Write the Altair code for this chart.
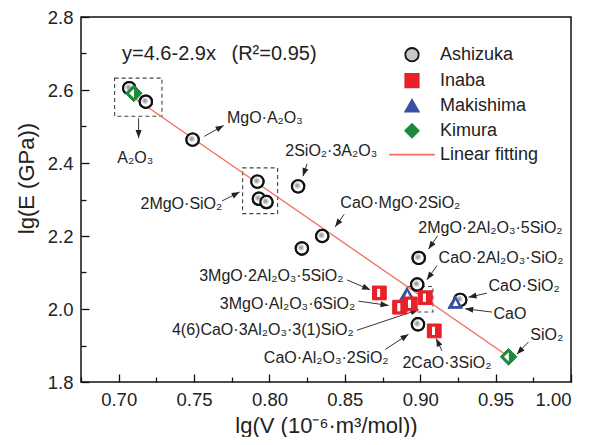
import math
import altair as alt
import pandas as pd

FONT = "Liberation Sans"
X_DOMAIN = [0.675, 1.0]
Y_DOMAIN = [1.8, 2.8]
W, H = 490, 365

# ---------------- data ----------------
ash_x = [0.707, 0.718, 0.749, 0.792, 0.793, 0.798, 0.819, 0.835, 0.8215, 0.899, 0.898, 0.9265, 0.8985]
ash_y = [2.605, 2.568, 2.464, 2.349, 2.302, 2.293, 2.336, 2.200, 2.166, 2.140, 2.067, 2.025, 1.958]
ina_x = [0.8729, 0.8863, 0.8934, 0.9033, 0.9093]
ina_y = [2.044, 2.005, 2.014, 2.031, 1.940]
mak_x = [0.8912, 0.9232]
mak_y = [2.042, 2.019]
kim_x = [0.710, 0.9586]
kim_y = [2.591, 1.869]
fit_x = [0.708, 0.958]
fit_y = [2.585, 1.871]

box_x1 = [0.6973, 0.7822, 0.8912]
box_x2 = [0.7287, 0.8054, 0.9084]
box_y1 = [2.6324, 2.3867, 2.0616]
box_y2 = [2.5281, 2.2613, 1.9916]

arr_x1 = [0.7132, 0.7568, 0.8249, 0.7685, 0.8496, 0.9115, 0.9111, 0.9442, 0.9476, 0.9718, 0.8514, 0.8591, 0.8580, 0.8768, 0.9144]
arr_y1 = [2.5229, 2.4730, 2.3975, 2.2959, 2.2597, 2.2005, 2.1188, 2.0433, 1.9916, 1.9098, 2.0798, 2.0215, 1.9417, 1.8891, 1.8853]
arr_x2 = [0.7132, 0.7696, 0.8222, 0.7802, 0.8436, 0.9055, 0.9044, 0.9320, 0.9298, 0.9641, 0.8668, 0.8790, 0.8989, 0.8922, 0.9106]
arr_y2 = [2.4684, 2.5030, 2.3640, 2.3204, 2.2251, 2.1643, 2.0798, 2.0324, 2.0008, 1.8763, 2.0526, 2.0098, 1.9981, 1.9308, 1.9191]

lab_text = ["A₂O₃", "MgO·A₂O₃", "2SiO₂·3A₂O₃", "2MgO·SiO₂", "CaO·MgO·2SiO₂",
            "2MgO·2Al₂O₃·5SiO₂", "CaO·2Al₂O₃·SiO₂", "CaO·SiO₂", "CaO", "SiO₂",
            "3MgO·2Al₂O₃·5SiO₂", "3MgO·Al₂O₃·6SiO₂", "4(6)CaO·3Al₂O₃·3(1)SiO₂",
            "CaO·Al₂O₃·2SiO₂", "2CaO·3SiO₂"]
lab_x = [0.711, 0.7718, 0.8105, 0.7687, 0.847, 0.8987, 0.9122, 0.9453, 0.9486, 0.973,
         0.8491, 0.8569, 0.8558, 0.879, 0.9177]
lab_y = [2.4139, 2.5229, 2.4322, 2.2877, 2.2913, 2.2223, 2.1398, 2.0643, 1.9872, 1.928,
         2.0916, 2.0144, 1.9417, 1.8646, 1.8526]
lab_align = ["center", "left", "left", "right", "left", "left", "left", "left", "left", "left",
             "right", "right", "right", "right", "center"]

eq_text = ["y=4.6-2.9x\u2002\u00a0(R²=0.95)"]
eq_x = [0.7022]
eq_y = [2.70]

series_names = ["Ashizuka", "Inaba", "Makishima", "Kimura", "Linear fitting"]
shape_range = ["circle", "square", "triangle-up", "diamond", "M-3.4,0H3.4"]
fill_range = ["#c8c8c8", "#e62129", "#3b4ea0", "#1e8a3c", "transparent"]
stroke_range = ["#111111", "#e62129", "#3b4ea0", "#1e8a3c", "#f26b5b"]

x_major = [0.70, 0.75, 0.80, 0.85, 0.90, 0.95, 1.00]
x_all = [round(0.675 + 0.025 * i, 3) for i in range(14)]
y_major = [1.8, 2.0, 2.2, 2.4, 2.6, 2.8]
y_all = [round(1.8 + 0.1 * i, 2) for i in range(11)]

# ---------------- helpers ----------------
xs = alt.Scale(domain=X_DOMAIN, nice=False, zero=False)
ys = alt.Scale(domain=Y_DOMAIN, nice=False, zero=False)

axis_x_labels = alt.Axis(values=x_major, format=".2f", tickSize=0, labelPadding=8,
                         labelFontSize=18.5, title="lg(V (10⁻⁶·m³/mol))",
                         titleFontSize=22, titleFontWeight="normal", titlePadding=7)
axis_y_labels = alt.Axis(values=y_major, format=".1f", tickSize=0, labelPadding=8,
                         labelFontSize=18.5, title="lg(E (GPa))", titleY=161,
                         titleFontSize=22, titleFontWeight="normal", titlePadding=9)
axis_x_ticks = alt.Axis(orient="top", offset=-H, values=x_all, labels=False, title=None,
                        tickWidth=1.3, tickColor="#111",
                        tickSize={"condition": {"test": "abs(datum.value*20 - round(datum.value*20)) < 0.001", "value": 8}, "value": 5})
axis_y_ticks = alt.Axis(orient="right", offset=-W, values=y_all, labels=False, title=None,
                        tickWidth=1.3, tickColor="#111",
                        tickSize={"condition": {"test": "abs(datum.value*5 - round(datum.value*5)) < 0.001", "value": 8}, "value": 5})

legend = alt.Legend(title=None, orient="none", legendX=322, legendY=28.7, padding=0,
                    labelFont=FONT, labelFontSize=18, labelColor="#222",
                    symbolSize=180, symbolStrokeWidth=1.8, symbolOpacity=1,
                    rowPadding=4, labelOffset=19)


def series_enc():
    return dict(
        shape=alt.Shape("series:N", scale=alt.Scale(domain=series_names, range=shape_range), legend=legend),
        fill=alt.Fill("series:N", scale=alt.Scale(domain=series_names, range=fill_range), legend=legend),
        stroke=alt.Stroke("series:N", scale=alt.Scale(domain=series_names, range=stroke_range), legend=legend),
    )


def pts(xv, yv, name):
    return pd.DataFrame({"x": xv, "y": yv, "series": name})


ash = pts(ash_x, ash_y, "Ashizuka")
ina = pts(ina_x, ina_y, "Inaba")
mak = pts(mak_x, mak_y, "Makishima")
kim = pts(kim_x, kim_y, "Kimura")
fit = pd.DataFrame({"x": fit_x, "y": fit_y})
boxes = pd.DataFrame({"x": box_x1, "x2": box_x2, "y": box_y1, "y2": box_y2})


def head_angle(x1, y1, x2, y2):
    dx = (x2 - x1) * W / (X_DOMAIN[1] - X_DOMAIN[0])
    dy = -(y2 - y1) * H / (Y_DOMAIN[1] - Y_DOMAIN[0])
    return math.degrees(math.atan2(dx, -dy)) % 360


arrows = pd.DataFrame({"x": arr_x1, "y": arr_y1, "x2": arr_x2, "y2": arr_y2})
arrows["angle"] = [head_angle(a, b, c, d) for a, b, c, d in zip(arr_x1, arr_y1, arr_x2, arr_y2)]

labels = pd.DataFrame({"x": lab_x, "y": lab_y, "text": lab_text, "align": lab_align})
eq = pd.DataFrame({"x": eq_x, "y": eq_y, "text": eq_text})

X = lambda ax=None: alt.X("x:Q", scale=xs, axis=ax)
Y = lambda ax=None: alt.Y("y:Q", scale=ys, axis=ax)

# ---------------- layers ----------------
box_layer = alt.Chart(boxes).mark_rect(fill=None, stroke="#444", strokeWidth=1.1, strokeDash=[4, 3]).encode(
    x=X(axis_x_ticks), x2="x2:Q", y=Y(axis_y_ticks), y2="y2:Q")

fit_layer = alt.Chart(fit).mark_line(color="#f26b5b", strokeWidth=1.3).encode(
    x=X(axis_x_labels), y=Y(axis_y_labels))

arrow_lines = alt.Chart(arrows).mark_rule(color="#333", strokeWidth=1).encode(
    x=X(), y=Y(), x2="x2:Q", y2="y2:Q")
arrow_heads = alt.Chart(arrows).mark_point(shape="M0,0L-0.38,1L0.38,1Z", size=256, filled=True,
                                           fill="#222", stroke=None, opacity=1).encode(
    x=alt.X("x2:Q", scale=xs, axis=None), y=alt.Y("y2:Q", scale=ys, axis=None),
    angle=alt.Angle("angle:Q", scale=None))

grad = {"gradient": "radial", "x1": 0.42, "y1": 0.42, "r1": 0, "x2": 0.45, "y2": 0.45, "r2": 0.55,
        "stops": [{"offset": 0, "color": "#8c8c8c"}, {"offset": 0.3, "color": "#bdbdbd"},
                  {"offset": 0.55, "color": "#ffffff"}, {"offset": 1, "color": "#ffffff"}]}

ash_base = alt.Chart(ash).mark_point(filled=True, size=150, opacity=1, strokeWidth=2.2).encode(
    x=X(), y=Y(), **series_enc())
ash_top = alt.Chart(ash).mark_point(shape="circle", size=150, fill=grad, stroke="#111",
                                    strokeWidth=2.2, opacity=1).encode(x=X(), y=Y())

mak_base = alt.Chart(mak).mark_point(filled=True, size=210, opacity=1, strokeWidth=1).encode(
    x=X(), y=Y(), **series_enc())
mak_top = alt.Chart(mak).mark_point(shape="M0.05,-0.3L0.45,0.55L-0.35,0.55Z", size=210, filled=True,
                                    fill="white", strokeWidth=0, opacity=1).encode(x=X(), y=Y())

ina_base = alt.Chart(ina).mark_point(filled=True, size=190, opacity=1, strokeWidth=1).encode(
    x=X(), y=Y(), **series_enc())
ina_top = alt.Chart(ina).mark_point(shape="M-0.33,-0.6H0.11V0.6H-0.33Z", size=190, filled=True,
                                    fill="white", strokeWidth=0, opacity=1).encode(x=X(), y=Y())

kim_base = alt.Chart(kim).mark_point(filled=True, size=280, opacity=1, strokeWidth=1).encode(
    x=X(), y=Y(), **series_enc())
kim_top = alt.Chart(kim).mark_point(shape="M-0.55,0L0.03,-0.55L0.03,0.55Z", size=280, filled=True,
                                    fill="white", strokeWidth=0, opacity=1).encode(x=X(), y=Y())

text_layers = []
for al in ["left", "center", "right"]:
    sub = labels[labels["align"] == al]
    text_layers.append(alt.Chart(sub).mark_text(align=al, baseline="middle", font=FONT,
                                                fontSize=16, color="#222").encode(
        x=X(), y=Y(), text="text:N"))

eq_layer = alt.Chart(eq).mark_text(align="left", baseline="middle", font=FONT, fontSize=20,
                                   color="#222").encode(x=X(), y=Y(), text="text:N")

chart = alt.layer(
    box_layer, fit_layer, arrow_lines, arrow_heads,
    ash_base, ash_top, mak_base, mak_top, ina_base, ina_top, kim_base, kim_top,
    *text_layers, eq_layer
).resolve_axis(x="independent", y="independent").properties(
    width=W, height=H,
    autosize=alt.AutoSizeParams(type="none"),
    padding={"left": 73, "top": 9, "right": 10, "bottom": 55},
).configure_view(stroke="#111", strokeWidth=1.5).configure_axis(
    grid=False, domain=False, labelFont=FONT, titleFont=FONT, labelColor="#222", titleColor="#222"
)

chart.save("out.html", embed_options={"renderer": "svg", "actions": False})
